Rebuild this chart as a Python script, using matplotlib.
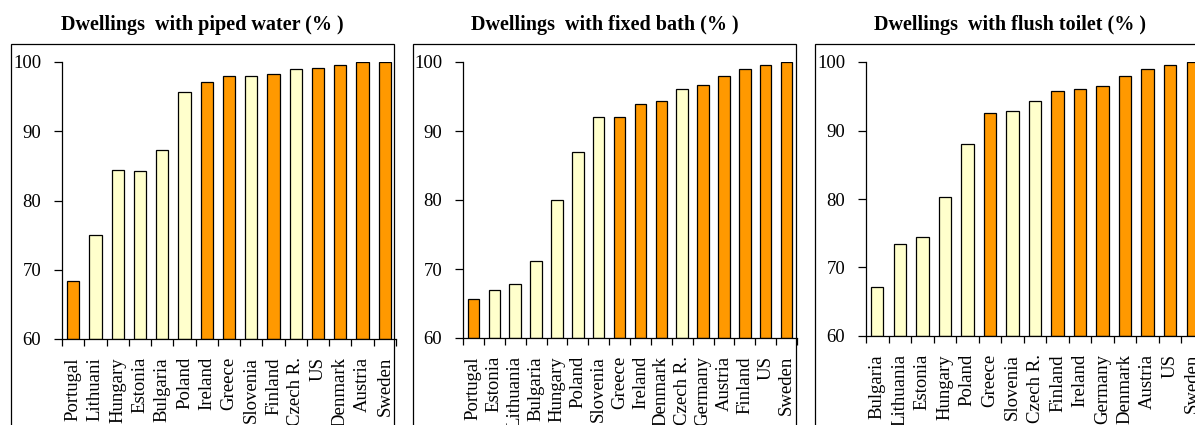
import matplotlib
matplotlib.use("Agg")
import matplotlib.pyplot as plt
from matplotlib.patches import Rectangle

plt.rcParams['font.family'] = ['Liberation Serif', 'DejaVu Serif']

# ---------------- data ----------------
water_countries = ["Portugal", "Lithuani", "Hungary", "Estonia", "Bulgaria", "Poland",
                   "Ireland", "Greece", "Slovenia", "Finland", "Czech R.", "US",
                   "Denmark", "Austria", "Sweden"]
water_values = [68.4, 75.0, 84.4, 84.2, 87.3, 95.6, 97.1, 98.0, 98.0, 98.2, 99.0, 99.2,
                99.5, 100.0, 100.0]

bath_countries = ["Portugal", "Estonia", "Lithuania", "Bulgaria", "Hungary", "Poland",
                  "Slovenia", "Greece", "Ireland", "Denmark", "Czech R.", "Germany",
                  "Austria", "Finland", "US", "Sweden"]
bath_values = [65.6, 67.0, 67.8, 71.2, 80.0, 87.0, 92.1, 92.1, 93.9, 94.4, 96.1, 96.6,
               98.0, 99.0, 99.5, 100.0]

toilet_countries = ["Bulgaria", "Lithuania", "Estonia", "Hungary", "Poland", "Greece",
                    "Slovenia", "Czech R.", "Finland", "Ireland", "Germany", "Denmark",
                    "Austria", "US", "Sweden"]
toilet_values = [67.1, 73.5, 74.4, 80.3, 88.0, 92.6, 92.8, 94.3, 95.8, 96.0, 96.5, 98.0,
                 99.0, 99.5, 100.0]

transition = {"Lithuani", "Lithuania", "Hungary", "Estonia", "Bulgaria", "Poland",
              "Slovenia", "Czech R."}

titles = ["Dwellings  with piped water (% )",
          "Dwellings  with fixed bath (% )",
          "Dwellings  with flush toilet (% )"]
yticks = [60, 70, 80, 90, 100]

# ---------------- layout ----------------
W, H = 1195, 425
fig = plt.figure(figsize=(W / 100, H / 100), dpi=100)

ORANGE = "#FF9900"
LIGHT = "#FFFFCC"

def fx(p):
    return p / W

def fy(p):
    return 1 - p / H

panels = [
    # (frame_left, frame_right, ax_left, ax_right, ax_top, ax_bottom)
    (11, 394, 62, 396, 62, 339),
    (413, 796, 463, 797, 62, 338),
    (815, 1204, 866, 1204, 62, 336),
]
datasets = [(water_countries, water_values),
            (bath_countries, bath_values),
            (toilet_countries, toilet_values)]

for (fl, fr, al, ar, at, ab), (cats, vals), title in zip(panels, datasets, titles):
    # outer frame
    fig.add_artist(Rectangle((fx(fl), fy(H + 50)), fx(fr - fl), (H + 50 - 44) / H,
                             transform=fig.transFigure, fill=False,
                             edgecolor="black", linewidth=0.9, clip_on=False))
    fig.text(fx((fl + fr) / 2), fy(25), title, ha="center", va="center",
             fontsize=14.5, fontweight="bold")

    ax = fig.add_axes([fx(al), fy(ab), fx(ar - al), (ab - at) / H])
    n = len(cats)
    x = list(range(n))
    colors = [LIGHT if c in transition else ORANGE for c in cats]
    ax.bar(x, [v - 60 for v in vals], bottom=60, width=0.55, color=colors,
           edgecolor="black", linewidth=0.9)
    ax.set_xlim(-0.5, n - 0.5)
    ax.set_ylim(60, 100)
    ax.set_yticks(yticks)
    ax.set_yticklabels([str(t) for t in yticks], fontsize=13.5)
    ax.set_xticks(x)
    ax.set_xticklabels(cats, rotation=90, fontsize=13.5, va="top", ha="center")
    ax.set_xticks([i - 0.5 for i in range(n + 1)], minor=True)
    ax.tick_params(axis="x", which="major", length=0, pad=13)
    ax.tick_params(axis="x", which="minor", length=5, width=0.9, direction="out")
    ax.tick_params(axis="y", length=6, width=0.9, direction="out", pad=9)
    for s in ("top", "right"):
        ax.spines[s].set_visible(False)
    for s in ("left", "bottom"):
        ax.spines[s].set_linewidth(0.9)
    ax.patch.set_alpha(0)

fig.savefig("out.png", dpi=100)
